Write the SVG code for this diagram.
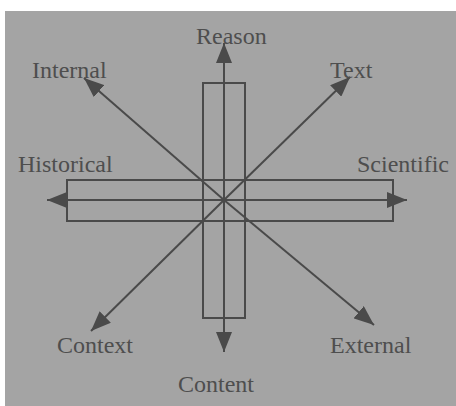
<svg xmlns="http://www.w3.org/2000/svg" width="456" height="406" viewBox="0 0 456 406">
<style>
.bg{fill:#a4a4a4}
.ln{stroke:#4a4a4a;stroke-width:2;fill:none}
.lbl{font-family:"Liberation Serif","Times New Roman",serif;font-size:24px;fill:#4e4e4e}
</style>
<defs>
<marker id="ah" viewBox="0 0 20 16" refX="20" refY="8" markerWidth="20" markerHeight="16" markerUnits="userSpaceOnUse" orient="auto">
<path d="M0,0 L20,8 L0,16 Z" fill="#4a4a4a"/>
</marker>
</defs>
<rect class="bg" x="5" y="11" width="451" height="395"/>
<g id="boxes">
<rect class="ln" x="203" y="83" width="42" height="235"/>
<rect class="ln" x="67" y="180" width="326" height="41"/>
</g>
<g id="connectors">
<line class="ln" x1="224" y1="200" x2="224" y2="43" marker-end="url(#ah)"/>
<line class="ln" x1="224" y1="200" x2="224" y2="352" marker-end="url(#ah)"/>
<line class="ln" x1="224" y1="200" x2="47" y2="200" marker-end="url(#ah)"/>
<line class="ln" x1="224" y1="200" x2="407" y2="200" marker-end="url(#ah)"/>
<line class="ln" x1="224" y1="200" x2="84" y2="78" marker-end="url(#ah)"/>
<line class="ln" x1="224" y1="200" x2="350" y2="77" marker-end="url(#ah)"/>
<line class="ln" x1="224" y1="200" x2="91" y2="331" marker-end="url(#ah)"/>
<line class="ln" x1="224" y1="200" x2="374" y2="325" marker-end="url(#ah)"/>
</g>
<g id="reason"><text class="lbl" x="196" y="44">Reason</text></g>
<g id="internal"><text class="lbl" x="32" y="78">Internal</text></g>
<g id="text"><text class="lbl" x="330" y="78">Text</text></g>
<g id="historical"><text class="lbl" x="18" y="172">Historical</text></g>
<g id="scientific"><text class="lbl" x="357" y="172">Scientific</text></g>
<g id="context"><text class="lbl" x="57" y="353">Context</text></g>
<g id="external"><text class="lbl" x="330" y="353">External</text></g>
<g id="content"><text class="lbl" x="178" y="392">Content</text></g>
</svg>
